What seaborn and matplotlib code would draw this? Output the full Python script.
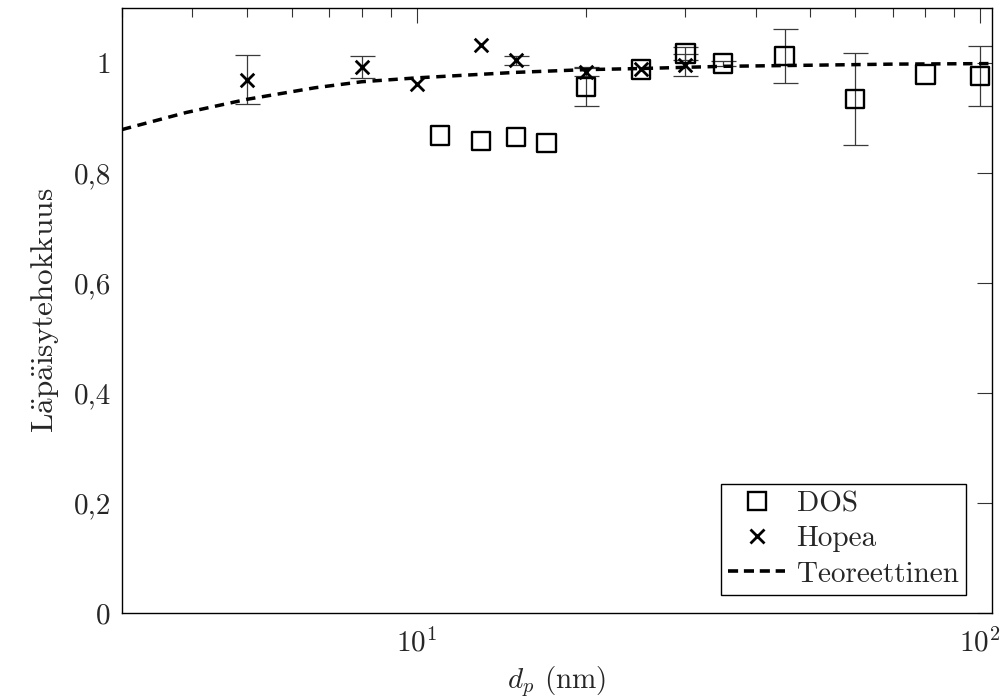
import numpy as np
import pandas as pd
import matplotlib
matplotlib.use("Agg")
import matplotlib.pyplot as plt
from matplotlib.lines import Line2D
from matplotlib.ticker import FixedLocator, FixedFormatter, LogLocator, NullFormatter
import seaborn as sns

# ---------------- data ----------------
dos_x = [11, 13, 15, 17, 20, 25, 30, 35, 45, 60, 80, 100]
dos_y = [0.868, 0.858, 0.865, 0.855, 0.956, 0.988, 1.017, 0.999, 1.013, 0.935, 0.979, 0.976]
dos_err = [0, 0, 0, 0, 0.035, 0, 0.012, 0.005, 0.049, 0.084, 0, 0.055]

hopea_x = [5, 8, 10, 13, 15, 20, 25, 30]
hopea_y = [0.970, 0.993, 0.962, 1.032, 1.005, 0.984, 0.990, 0.996]
hopea_err = [0.044, 0.020, 0, 0, 0.008, 0.008, 0, 0.020]

theory_x = [3.0, 3.9, 5, 6.6, 8, 10, 15, 20, 25, 35, 50, 70, 105]
theory_y = [0.879, 0.910, 0.934, 0.955, 0.966, 0.973, 0.983, 0.988, 0.990, 0.994, 0.996, 0.998, 0.999]

y_ticks = [0, 0.2, 0.4, 0.6, 0.8, 1.0]
y_ticklabels = ["0", "0,2", "0,4", "0,6", "0,8", "1"]

labels = ["DOS", "Hopea", "Teoreettinen"]

# ---------------- style ----------------
sns.set_theme(style="white")
plt.rcParams["font.family"] = ["cmr10", "DejaVu Serif"]
plt.rcParams["mathtext.fontset"] = "cm"
plt.rcParams["axes.unicode_minus"] = False
plt.rcParams["axes.formatter.use_mathtext"] = True

FS = 21

fig = plt.figure(figsize=(10.08, 6.98), dpi=100)
ax = fig.add_axes([0.121, 0.1218, 0.863, 0.8667])

dos_df = pd.DataFrame({"x": dos_x, "y": dos_y, "err": dos_err})
hop_df = pd.DataFrame({"x": hopea_x, "y": hopea_y, "err": hopea_err})
th_df = pd.DataFrame({"x": theory_x, "y": theory_y})

# error bars
for df in (dos_df, hop_df):
    sub = df[df["err"] > 0]
    ax.errorbar(sub["x"], sub["y"], yerr=sub["err"], fmt="none",
                ecolor="#3a3a3a", elinewidth=0.9, capsize=9, capthick=0.9, zorder=2)

# theoretical curve
sns.lineplot(data=th_df, x="x", y="y", ax=ax, color="black", linewidth=2.5,
             dashes=False, zorder=3, estimator=None, sort=True)
ax.lines[-1].set_dashes([2.7, 1.9])

# DOS squares
sns.scatterplot(data=dos_df, x="x", y="y", ax=ax, marker="s", s=175,
                facecolor="none", edgecolor="black", linewidth=1.7, zorder=4)
# Hopea crosses
sns.scatterplot(data=hop_df, x="x", y="y", ax=ax, marker="x", s=95,
                color="black", linewidth=2.0, zorder=5)

ax.set_xscale("log")
ax.set_xlim(3, 105)
ax.set_ylim(0, 1.1)

ax.yaxis.set_major_locator(FixedLocator(y_ticks))
ax.yaxis.set_major_formatter(FixedFormatter(y_ticklabels))
ax.xaxis.set_major_locator(LogLocator(base=10, numticks=10))
ax.xaxis.set_minor_locator(LogLocator(base=10, subs=np.arange(2, 10), numticks=10))
ax.xaxis.set_minor_formatter(NullFormatter())

ax.tick_params(axis="both", which="major", direction="in", length=11, width=0.8,
               color="#333333", labelsize=FS, top=True, right=True, pad=8)
ax.tick_params(axis="both", which="minor", direction="in", length=6.5, width=0.8,
               color="#333333", top=True, right=True)
ax.tick_params(axis="x", which="major", pad=11)

for sp in ax.spines.values():
    sp.set_color("black")
    sp.set_linewidth(1.0)

ax.set_xlabel(r"$d_p$ (nm)", fontsize=FS, labelpad=5)
ax.set_ylabel(r"$\mathrm{L\ddot{a}p\ddot{a}isytehokkuus}$", fontsize=22.5, labelpad=9)

handles = [
    Line2D([], [], marker="s", linestyle="none", markersize=13, markerfacecolor="none",
           markeredgecolor="black", markeredgewidth=1.7),
    Line2D([], [], marker="x", linestyle="none", markersize=9.5, color="black",
           markeredgewidth=2.0),
    Line2D([], [], color="black", linewidth=2.6, dashes=[2.8, 1.6]),
]
leg = ax.legend(handles, labels, loc="lower right", bbox_to_anchor=(0.970, 0.030),
                borderaxespad=0, fontsize=FS, frameon=True, fancybox=False,
                handlelength=1.95, handletextpad=0.4, labelspacing=0.3,
                borderpad=0.25)
leg.get_frame().set_edgecolor("black")
leg.get_frame().set_linewidth(1.0)
leg.get_frame().set_alpha(1)

fig.savefig("out.png", dpi=100)
